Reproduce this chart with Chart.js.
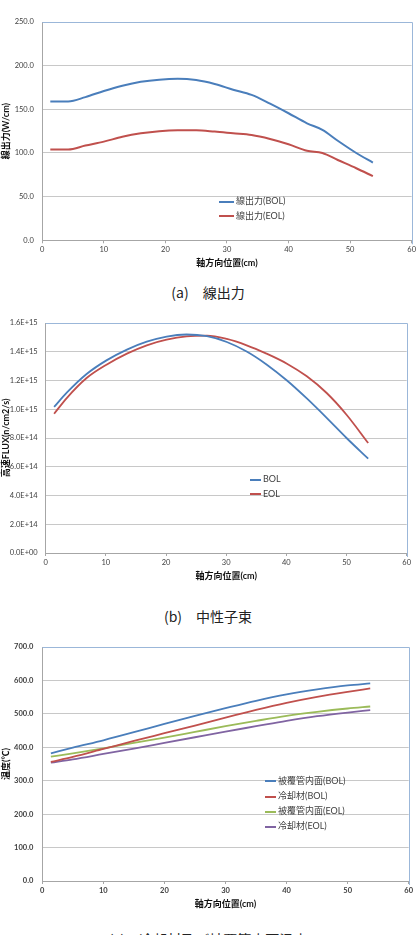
<!DOCTYPE html>
<html>
<head>
<meta charset="utf-8">
<script src="https://cdn.jsdelivr.net/npm/chart.js@4.4.0/dist/chart.umd.min.js"></script>
<style>
body { margin: 0; background: #fff; width: 418px; height: 935px; overflow: hidden; position: relative; font-family: Lato, 'Noto Sans CJK JP', sans-serif; }
.wrap { position: absolute; left: 0; }
.cap { position: absolute; left: 0; width: 416px; text-align: center; font-family: 'Noto Sans CJK JP', sans-serif; font-size: 14px; line-height: 20px; color: #222; white-space: nowrap; }
.legend { position: absolute; font-size: 9px; color: #404040; }
.legend div { white-space: nowrap; }
.legend .sw { display: inline-block; width: 14px; height: 2px; vertical-align: middle; margin-right: 2px; }
</style>
</head>
<body>

<div class="wrap" id="powerBox"><canvas id="powerChart"></canvas></div>
<div class="legend" id="powerLegend"></div>
<div class="cap" style="top:282px">(a)　線出力</div>

<div class="wrap" id="fluxBox"><canvas id="fluxChart"></canvas></div>
<div class="legend" id="fluxLegend"></div>
<div class="cap" style="top:606px">(b)　中性子束</div>

<div class="wrap" id="tempBox"><canvas id="tempChart"></canvas></div>
<div class="legend" id="tempLegend"></div>
<div class="cap" style="top:929px">(c)　冷却材及び被覆管内面温度</div>

<script>
// (a) line power
var powerX = [1.3, 4.2, 7, 10, 13, 16, 19, 22, 25, 28, 31, 34, 37, 40, 43, 45.5, 48, 51, 53.7];
var powerBOL = [159, 159, 164, 171, 177, 181.5, 184, 185, 183.5, 179, 172.5, 166.5, 156.5, 145.5, 134, 126.5, 114, 100, 89];
var powerEOL = [104, 104, 108.5, 113, 118.5, 122.5, 125, 126, 126, 124.5, 122.5, 120.5, 116, 110, 102.5, 100, 92, 82.5, 73.5];
var powerTicks = ["0.0", "50.0", "100.0", "150.0", "200.0", "250.0"];

// (b) fast flux
var fluxX = [1.4, 3.5, 6.8, 10.1, 13.5, 16.8, 20.1, 23.4, 26.8, 30.1, 33.4, 36.7, 40.1, 43.4, 46.7, 50.0, 53.6];
var fluxBOL = [1.016e15, 1.115e15, 1.245e15, 1.34e15, 1.415e15, 1.47e15, 1.506e15, 1.52e15, 1.508e15, 1.468e15, 1.402e15, 1.312e15, 1.20e15, 1.075e15, 0.94e15, 0.80e15, 0.656e15];
var fluxEOL = [0.969e15, 1.078e15, 1.217e15, 1.31e15, 1.387e15, 1.445e15, 1.484e15, 1.507e15, 1.512e15, 1.489e15, 1.445e15, 1.387e15, 1.317e15, 1.229e15, 1.113e15, 0.962e15, 0.765e15];
var fluxTicks = ["0.0E+00", "2.0E+14", "4.0E+14", "6.0E+14", "8.0E+14", "1.0E+15", "1.2E+15", "1.4E+15", "1.6E+15"];

// (c) temperatures
var tempX = [1.4, 5, 10, 15, 20, 25, 30, 35, 40, 45, 50, 53.7];
var cladBOL = [382, 399, 421, 445, 470, 494, 517, 539, 558, 573, 585, 591];
var coolBOL = [356, 371, 395, 419, 442, 465, 489, 512, 533, 551, 566, 576];
var cladEOL = [372, 382, 397, 413, 429, 446, 463, 479, 494, 506, 516, 522];
var coolEOL = [354, 364, 380, 396, 413, 430, 447, 463, 479, 493, 504, 511];
var tempTicks = ["0.0", "100.0", "200.0", "300.0", "400.0", "500.0", "600.0", "700.0"];

var xTicks = ["0", "10", "20", "30", "40", "50", "60"];

var BLUE = "#4a7ebb", RED = "#c0504d", GREEN = "#9bbb59", PURPLE = "#8064a2";
var FONT = "Lato, 'Noto Sans CJK JP', sans-serif";

function points(xs, ys)
{
    return xs.map(function (x, i) { return {x: x, y: ys[i]}; });
}

// light blue frame on top and right of the plot area (Excel style)
var plotFrame = {
    id: "plotFrame",
    beforeDatasetsDraw: function (chart) {
        var a = chart.chartArea, ctx = chart.ctx;
        ctx.save();
        ctx.strokeStyle = "#9bb7d9";
        ctx.lineWidth = 1;
        ctx.beginPath();
        ctx.moveTo(a.left, Math.round(a.top) + 0.5);
        ctx.lineTo(Math.round(a.right) + 0.5, Math.round(a.top) + 0.5);
        ctx.lineTo(Math.round(a.right) + 0.5, a.bottom + 4);
        ctx.stroke();
        ctx.restore();
    }
};

function buildChart(name, area, cfg)
{
    var top = area.top - 24;
    var height = Math.round(area.bottom + 30 - top);
    var xh = top + height - area.bottom;
    document.getElementById(name + "Box").style.top = top + "px";
    var canvas = document.getElementById(name + "Chart");
    canvas.width = 418;
    canvas.height = height;

    var datasets = cfg.series.map(function (s) {
        return {
            label: s.label,
            data: points(cfg.x, s.values),
            borderColor: s.color,
            backgroundColor: s.color,
            borderWidth: cfg.lineWidth,
            pointRadius: 0,
            fill: false,
            tension: cfg.tension,
            cubicInterpolationMode: cfg.mode
        };
    });

    var chart = new Chart(canvas, {
        type: "line",
        data: {datasets: datasets},
        options: {
            responsive: false,
            animation: false,
            layout: {padding: {top: area.top - top, right: 418 - area.right, left: 0, bottom: 0}},
            plugins: {legend: {display: false}, tooltip: {enabled: false}},
            scales: {
                x: {
                    type: "linear", min: 0, max: 60,
                    ticks: {stepSize: 10, padding: 2, color: "#404040", font: {family: FONT, size: 7.5, weight: cfg.tickWeight},
                        callback: function (v, i) { return xTicks[i]; }},
                    grid: {drawOnChartArea: false, tickLength: 3, tickColor: "#a6a6a6"},
                    border: {color: "#a6a6a6"},
                    title: {display: true, text: "軸方向位置(cm)", color: "#111", font: {family: FONT, size: 9, weight: "bold"}, padding: {top: 0, bottom: 1.3}},
                    afterFit: function (s) { s.height = xh; }
                },
                y: {
                    min: cfg.yMin, max: cfg.yMax,
                    ticks: {stepSize: cfg.yStep, padding: cfg.yPad, color: "#404040", font: {family: FONT, size: 7.5, weight: cfg.tickWeight},
                        callback: function (v, i) { return cfg.yTicks[i]; }},
                    grid: {color: "#c8c8c8", drawTicks: false},
                    border: {color: "#a6a6a6"},
                    title: {display: true, text: cfg.yTitle, color: "#111", font: {family: FONT, size: 9, weight: "bold"}, padding: {top: 0.6, bottom: 0}},
                    afterFit: function (s) { s.width = area.left; }
                }
            }
        },
        plugins: [plotFrame]
    });

    // html legend from the datasets
    var leg = document.getElementById(name + "Legend");
    leg.style.left = cfg.legend.x + "px";
    leg.style.top = cfg.legend.y + "px";
    chart.data.datasets.forEach(function (d) {
        var row = document.createElement("div");
        row.style.height = cfg.legend.row + "px";
        row.style.lineHeight = cfg.legend.row + "px";
        row.innerHTML = '<span class="sw" style="background:' + d.borderColor + ';width:' + cfg.legend.line + 'px"></span>' + d.label;
        leg.appendChild(row);
    });
    return chart;
}

buildChart("power", {left: 42.3, top: 21.7, right: 412, bottom: 240}, {
    x: powerX,
    series: [
        {label: "線出力(BOL)", values: powerBOL, color: BLUE},
        {label: "線出力(EOL)", values: powerEOL, color: RED}
    ],
    yMin: 0, yMax: 250, yStep: 50, yTicks: powerTicks, yPad: 8.5,
    yTitle: "線出力(W/cm)",
    lineWidth: 2, tension: 0.3, mode: "monotone", tickWeight: "normal",
    legend: {x: 219, y: 194, row: 14.7, line: 15}
});

buildChart("flux", {left: 45.7, top: 323.3, right: 406.7, bottom: 553.3}, {
    x: fluxX,
    series: [
        {label: "BOL", values: fluxBOL, color: BLUE},
        {label: "EOL", values: fluxEOL, color: RED}
    ],
    yMin: 0, yMax: 1.6e15, yStep: 2e14, yTicks: fluxTicks, yPad: 8,
    yTitle: "高速FLUX(n/cm2/s)",
    lineWidth: 1.8, tension: 0.4, mode: "monotone", tickWeight: "normal",
    legend: {x: 250, y: 472, row: 14.7, line: 11}
});

buildChart("temp", {left: 42.3, top: 647, right: 408.7, bottom: 881}, {
    x: tempX,
    series: [
        {label: "被覆管内面(BOL)", values: cladBOL, color: BLUE},
        {label: "冷却材(BOL)", values: coolBOL, color: RED},
        {label: "被覆管内面(EOL)", values: cladEOL, color: GREEN},
        {label: "冷却材(EOL)", values: coolEOL, color: PURPLE}
    ],
    yMin: 0, yMax: 700, yStep: 100, yTicks: tempTicks, yPad: 9,
    yTitle: "温度(℃)",
    lineWidth: 1.8, tension: 0.4, mode: "monotone", tickWeight: "bold",
    legend: {x: 265, y: 772.5, row: 15.3, line: 11}
});
</script>
</body>
</html>
